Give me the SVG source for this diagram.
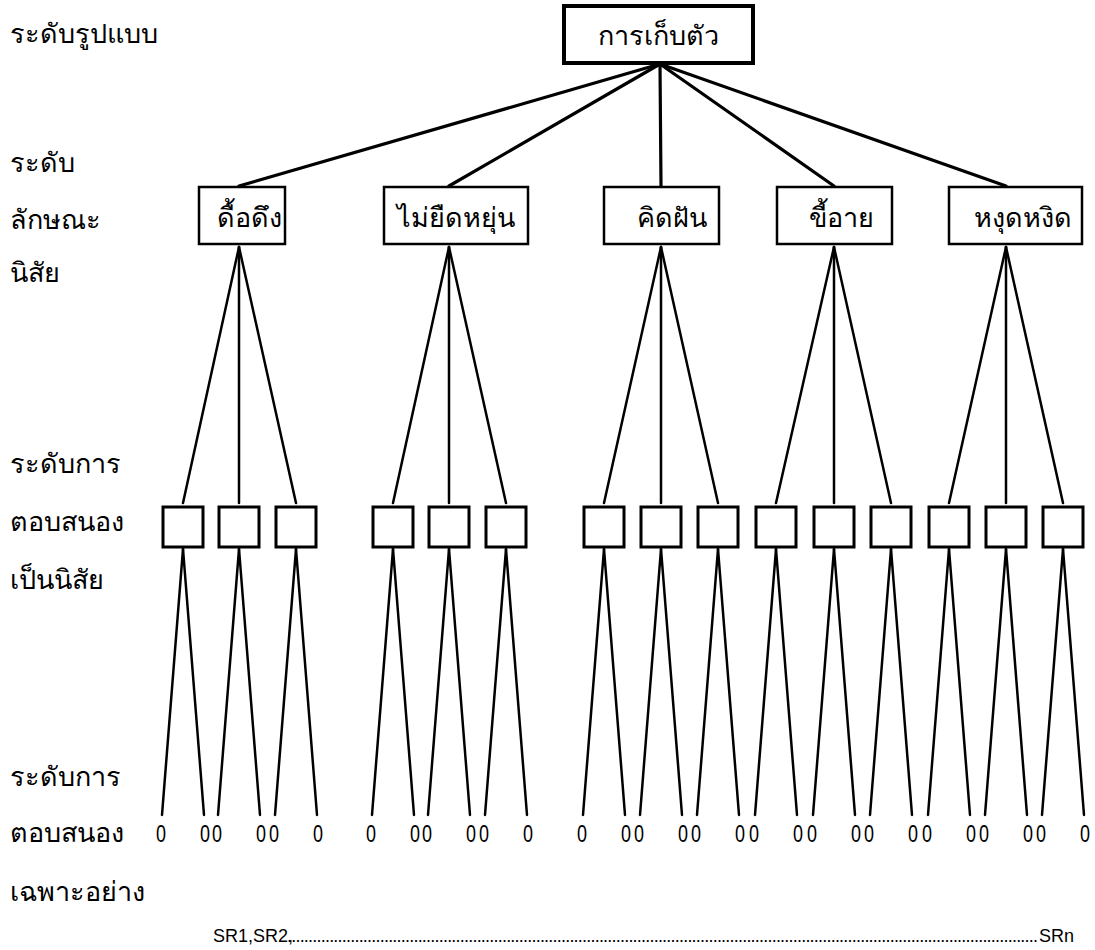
<svg xmlns="http://www.w3.org/2000/svg" width="1095" height="950" viewBox="0 0 1095 950">
<style>
text{font-family:"DejaVu Sans","Noto Sans",sans-serif;fill:#000}
.lbl{font-size:27px}
.top{font-size:27px}
.l2{font-size:27px}
.z{font-size:23px;font-family:"Liberation Sans",sans-serif}
.sr{font-size:18px;font-family:"Liberation Sans",sans-serif}
.b1{fill:#fff;stroke:#000;stroke-width:4}
.b2{fill:#fff;stroke:#000;stroke-width:2.5}
.b3{fill:#fff;stroke:#000;stroke-width:3}
.c1 line{stroke:#000;stroke-width:3.2;stroke-linecap:round}
.c2 line{stroke:#000;stroke-width:2.5;stroke-linecap:round}
.c3 line{stroke:#000;stroke-width:2.5;stroke-linecap:round}
</style>
<g id="levels">
<text class="lbl" x="10" y="43">ระดับรูปแบบ</text>
<text class="lbl" x="10" y="172">ระดับ</text>
<text class="lbl" x="10" y="229">ลักษณะ</text>
<text class="lbl" x="10" y="282">นิสัย</text>
<text class="lbl" x="10" y="473">ระดับการ</text>
<text class="lbl" x="10" y="531">ตอบสนอง</text>
<text class="lbl" x="10" y="589">เป็นนิสัย</text>
<text class="lbl" x="10" y="786">ระดับการ</text>
<text class="lbl" x="10" y="842">ตอบสนอง</text>
<text class="lbl" x="10" y="901">เฉพาะอย่าง</text>
</g>
<g id="connectors">
<g class="c1">
<line x1="660" y1="64" x2="239" y2="186"/>
<line x1="660" y1="64" x2="449" y2="186"/>
<line x1="660" y1="64" x2="661" y2="186"/>
<line x1="660" y1="64" x2="834" y2="186"/>
<line x1="660" y1="64" x2="1006" y2="186"/>
</g>
<g class="c2">
<line x1="239" y1="247" x2="183" y2="503"/><line x1="239" y1="247" x2="239" y2="503"/><line x1="239" y1="247" x2="296" y2="503"/>
<line x1="449" y1="247" x2="393" y2="503"/><line x1="449" y1="247" x2="449" y2="503"/><line x1="449" y1="247" x2="506" y2="503"/>
<line x1="661" y1="247" x2="604" y2="503"/><line x1="661" y1="247" x2="661" y2="503"/><line x1="661" y1="247" x2="718" y2="503"/>
<line x1="834" y1="247" x2="776" y2="503"/><line x1="834" y1="247" x2="834" y2="503"/><line x1="834" y1="247" x2="891" y2="503"/>
<line x1="1006" y1="247" x2="949" y2="503"/><line x1="1006" y1="247" x2="1006" y2="503"/><line x1="1006" y1="247" x2="1063" y2="503"/>
</g>
<g class="c3">
<line x1="183" y1="549" x2="162" y2="815"/><line x1="183" y1="549" x2="204" y2="815"/>
<line x1="239" y1="549" x2="218" y2="815"/><line x1="239" y1="549" x2="260" y2="815"/>
<line x1="296" y1="549" x2="275" y2="815"/><line x1="296" y1="549" x2="317" y2="815"/>
<line x1="393" y1="549" x2="372" y2="815"/><line x1="393" y1="549" x2="414" y2="815"/>
<line x1="449" y1="549" x2="428" y2="815"/><line x1="449" y1="549" x2="470" y2="815"/>
<line x1="506" y1="549" x2="485" y2="815"/><line x1="506" y1="549" x2="527" y2="815"/>
<line x1="604" y1="549" x2="583" y2="815"/><line x1="604" y1="549" x2="625" y2="815"/>
<line x1="661" y1="549" x2="640" y2="815"/><line x1="661" y1="549" x2="682" y2="815"/>
<line x1="718" y1="549" x2="697" y2="815"/><line x1="718" y1="549" x2="739" y2="815"/>
<line x1="776" y1="549" x2="755" y2="815"/><line x1="776" y1="549" x2="797" y2="815"/>
<line x1="834" y1="549" x2="813" y2="815"/><line x1="834" y1="549" x2="855" y2="815"/>
<line x1="891" y1="549" x2="870" y2="815"/><line x1="891" y1="549" x2="912" y2="815"/>
<line x1="949" y1="549" x2="928" y2="815"/><line x1="949" y1="549" x2="970" y2="815"/>
<line x1="1006" y1="549" x2="985" y2="815"/><line x1="1006" y1="549" x2="1027" y2="815"/>
<line x1="1063" y1="549" x2="1042" y2="815"/><line x1="1063" y1="549" x2="1084" y2="815"/>
</g>
</g>
<g id="n-root"><rect class="b1" x="564" y="6" width="189" height="57"/><text class="top" x="658" y="45" text-anchor="middle">การเก็บตัว</text></g>
<g id="n-a"><rect class="b2" x="199" y="187" width="86" height="57"/><text class="l2" x="249" y="227" text-anchor="middle">ดื้อดึง</text></g>
<g id="n-b"><rect class="b2" x="384" y="187" width="144" height="57"/><text class="l2" x="456" y="227" text-anchor="middle">ไม่ยืดหยุ่น</text></g>
<g id="n-c"><rect class="b2" x="604" y="187" width="115" height="57"/><text class="l2" x="672" y="227" text-anchor="middle">คิดฝัน</text></g>
<g id="n-d"><rect class="b2" x="777" y="187" width="115" height="57"/><text class="l2" x="841" y="227" text-anchor="middle">ขี้อาย</text></g>
<g id="n-e"><rect class="b2" x="949" y="187" width="133" height="57"/><text class="l2" x="1023" y="227" text-anchor="middle">หงุดหงิด</text></g>
<g id="habits">
<rect id="h1" class="b3" x="163" y="507" width="40" height="40"/>
<rect id="h2" class="b3" x="219" y="507" width="40" height="40"/>
<rect id="h3" class="b3" x="276" y="507" width="40" height="40"/>
<rect id="h4" class="b3" x="373" y="507" width="40" height="40"/>
<rect id="h5" class="b3" x="429" y="507" width="40" height="40"/>
<rect id="h6" class="b3" x="486" y="507" width="40" height="40"/>
<rect id="h7" class="b3" x="584" y="507" width="40" height="40"/>
<rect id="h8" class="b3" x="641" y="507" width="40" height="40"/>
<rect id="h9" class="b3" x="698" y="507" width="40" height="40"/>
<rect id="h10" class="b3" x="756" y="507" width="40" height="40"/>
<rect id="h11" class="b3" x="814" y="507" width="40" height="40"/>
<rect id="h12" class="b3" x="871" y="507" width="40" height="40"/>
<rect id="h13" class="b3" x="929" y="507" width="40" height="40"/>
<rect id="h14" class="b3" x="986" y="507" width="40" height="40"/>
<rect id="h15" class="b3" x="1043" y="507" width="40" height="40"/>
</g>
<g id="responses">
<text class="z" x="156" y="842" textLength="10" lengthAdjust="spacingAndGlyphs">0</text><text class="z" x="200" y="842" textLength="10" lengthAdjust="spacingAndGlyphs">0</text>
<text class="z" x="212" y="842" textLength="10" lengthAdjust="spacingAndGlyphs">0</text><text class="z" x="256" y="842" textLength="10" lengthAdjust="spacingAndGlyphs">0</text>
<text class="z" x="269" y="842" textLength="10" lengthAdjust="spacingAndGlyphs">0</text><text class="z" x="313" y="842" textLength="10" lengthAdjust="spacingAndGlyphs">0</text>
<text class="z" x="366" y="842" textLength="10" lengthAdjust="spacingAndGlyphs">0</text><text class="z" x="410" y="842" textLength="10" lengthAdjust="spacingAndGlyphs">0</text>
<text class="z" x="422" y="842" textLength="10" lengthAdjust="spacingAndGlyphs">0</text><text class="z" x="466" y="842" textLength="10" lengthAdjust="spacingAndGlyphs">0</text>
<text class="z" x="479" y="842" textLength="10" lengthAdjust="spacingAndGlyphs">0</text><text class="z" x="523" y="842" textLength="10" lengthAdjust="spacingAndGlyphs">0</text>
<text class="z" x="577" y="842" textLength="10" lengthAdjust="spacingAndGlyphs">0</text><text class="z" x="621" y="842" textLength="10" lengthAdjust="spacingAndGlyphs">0</text>
<text class="z" x="634" y="842" textLength="10" lengthAdjust="spacingAndGlyphs">0</text><text class="z" x="678" y="842" textLength="10" lengthAdjust="spacingAndGlyphs">0</text>
<text class="z" x="691" y="842" textLength="10" lengthAdjust="spacingAndGlyphs">0</text><text class="z" x="735" y="842" textLength="10" lengthAdjust="spacingAndGlyphs">0</text>
<text class="z" x="749" y="842" textLength="10" lengthAdjust="spacingAndGlyphs">0</text><text class="z" x="793" y="842" textLength="10" lengthAdjust="spacingAndGlyphs">0</text>
<text class="z" x="807" y="842" textLength="10" lengthAdjust="spacingAndGlyphs">0</text><text class="z" x="851" y="842" textLength="10" lengthAdjust="spacingAndGlyphs">0</text>
<text class="z" x="864" y="842" textLength="10" lengthAdjust="spacingAndGlyphs">0</text><text class="z" x="908" y="842" textLength="10" lengthAdjust="spacingAndGlyphs">0</text>
<text class="z" x="922" y="842" textLength="10" lengthAdjust="spacingAndGlyphs">0</text><text class="z" x="966" y="842" textLength="10" lengthAdjust="spacingAndGlyphs">0</text>
<text class="z" x="979" y="842" textLength="10" lengthAdjust="spacingAndGlyphs">0</text><text class="z" x="1023" y="842" textLength="10" lengthAdjust="spacingAndGlyphs">0</text>
<text class="z" x="1036" y="842" textLength="10" lengthAdjust="spacingAndGlyphs">0</text><text class="z" x="1080" y="842" textLength="10" lengthAdjust="spacingAndGlyphs">0</text>
</g>
<g id="sr">
<text class="sr" x="213" y="942">SR1,SR2,</text>
<text class="sr" x="287" y="942" font-size="9" textLength="751" lengthAdjust="spacing">..................................................................................................................................................................................</text>
<text class="sr" x="1039" y="942">SRn</text>
</g>
</svg>
